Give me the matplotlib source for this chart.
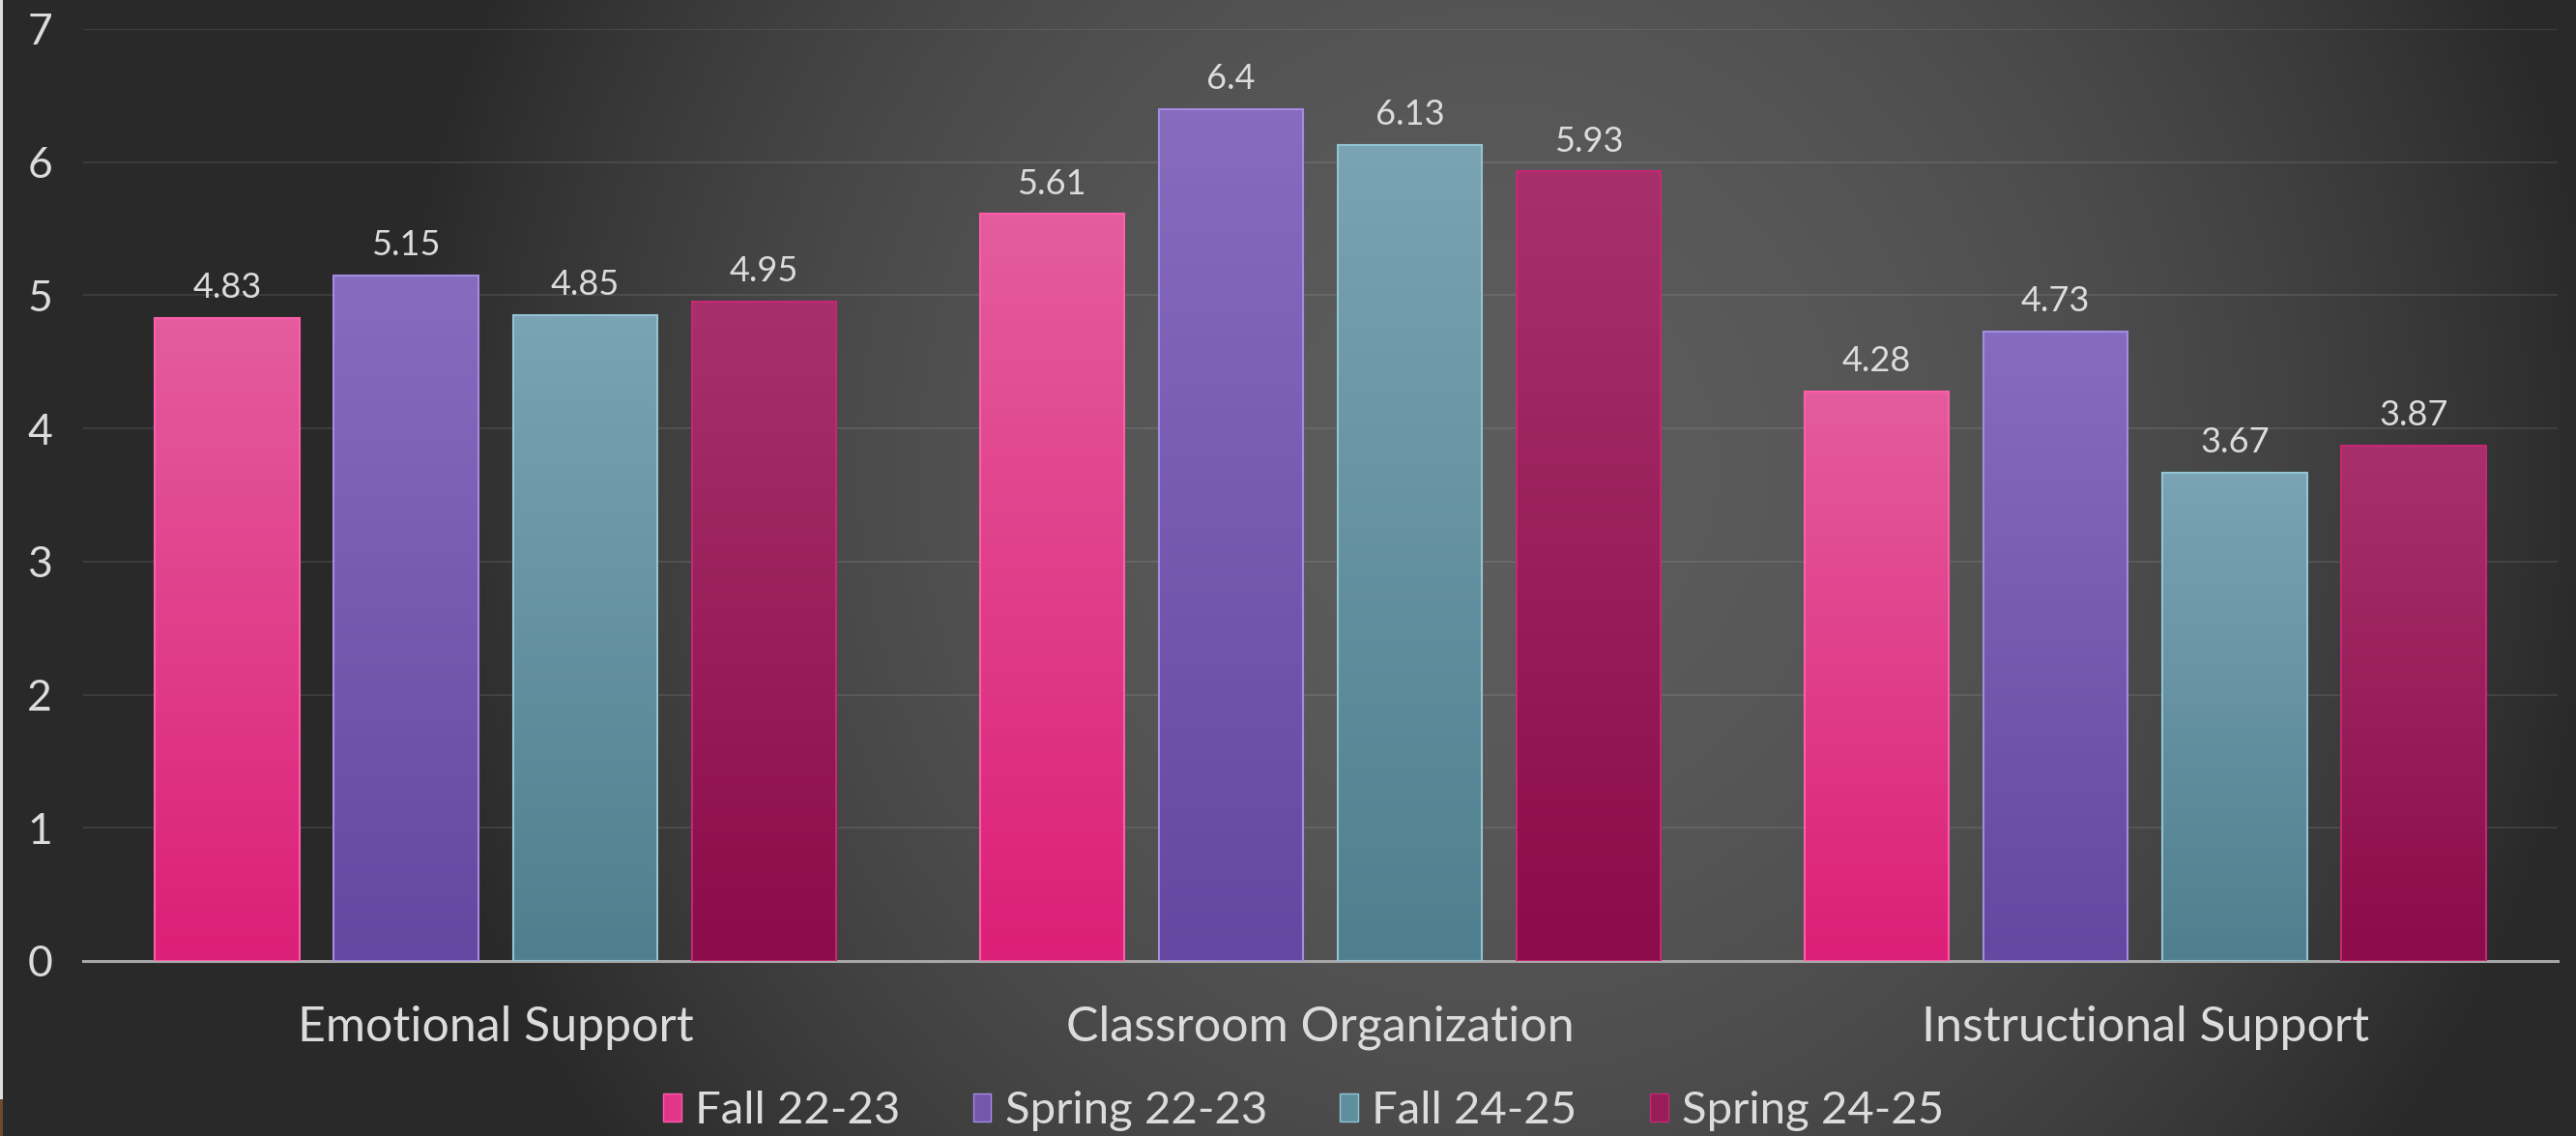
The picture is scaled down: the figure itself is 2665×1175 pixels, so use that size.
import numpy as np
import matplotlib
matplotlib.use('Agg')
import matplotlib.pyplot as plt
from matplotlib.colors import LinearSegmentedColormap
from matplotlib.patches import Rectangle

plt.rcParams['font.family'] = ['Lato', 'DejaVu Sans']

# data
categories = ['Emotional Support', 'Classroom Organization', 'Instructional Support']
series = ['Fall 22-23', 'Spring 22-23', 'Fall 24-25', 'Spring 24-25']
fall_22_23 = [4.83, 5.61, 4.28]
spring_22_23 = [5.15, 6.4, 4.73]
fall_24_25 = [4.85, 6.13, 3.67]
spring_24_25 = [4.95, 5.93, 3.87]
y_ticks = [0, 1, 2, 3, 4, 5, 6, 7]

values = [fall_22_23, spring_22_23, fall_24_25, spring_24_25]
# (top, bottom, edge highlight, legend colour)
colors = [
    ('#e45c9c', '#dc1f78', '#ff5cab', '#e2358a'),
    ('#866cbf', '#6447a0', '#a48ce2', '#7457ad'),
    ('#7aa3b3', '#4f7f8e', '#93c4d4', '#5f8e9e'),
    ('#a8306a', '#8a0c48', '#c52776', '#971c57'),
]
text_color = '#dcdcdc'

W, H = 2665, 1175
fig = plt.figure(figsize=(W / 100, H / 100), dpi=100)
fig.patch.set_facecolor('#2e2e2e')

# background: soft radial gradient, lighter towards the middle
bg = fig.add_axes([0, 0, 1, 1], zorder=-10)
yy, xx = np.mgrid[0:H:4, 0:W:4]
r2 = ((xx - 1550) / 1150.0) ** 2 + ((yy - 480) / 1200.0) ** 2
f = np.clip(1 - r2, 0, 1)
grey = (41 + 51 * f) / 255.0
bg.imshow(np.dstack([grey, grey, grey]), extent=[0, 1, 0, 1], aspect='auto', origin='upper')
bg.set_xlim(0, 1)
bg.set_ylim(0, 1)
bg.axis('off')
# thin light strip on the far left edge of the screenshot
bg.add_patch(Rectangle((0, 38 / H), 3 / W, 1, color='#dedede', lw=0))
bg.add_patch(Rectangle((0, 0), 3 / W, 38 / H, color='#6b4a2c', lw=0))

ax = fig.add_axes([86 / W, 1 - 994 / H, (2646 - 86) / W, (994 - 30) / H])
ax.set_facecolor('none')

x = np.arange(len(categories))
width = 0.175
step = 0.217

for i, (name, vals) in enumerate(zip(series, values)):
    top, bottom, edge, _ = colors[i]
    cmap = LinearSegmentedColormap.from_list(name, [bottom, top])
    bars = ax.bar(x + (i - 1.5) * step, vals, width, facecolor='none',
                  edgecolor=edge, linewidth=1.5, zorder=3)
    for rect, v in zip(bars, vals):
        grad = np.linspace(0, 1, 100).reshape(-1, 1)
        im = ax.imshow(grad, extent=[rect.get_x(), rect.get_x() + rect.get_width(), 0, rect.get_height()],
                       cmap=cmap, aspect='auto', origin='lower', zorder=2)
        im.set_clip_path(rect)
        ax.annotate(f'{v:g}', (rect.get_x() + rect.get_width() / 2, v), xytext=(0, 15),
                    textcoords='offset points', ha='center', va='baseline',
                    fontsize=26, color=text_color)

ax.set_xlim(-0.5, len(categories) - 0.5)
ax.set_ylim(0, 7)
ax.set_yticks(y_ticks)
ax.set_xticks(x)
ax.set_xticklabels(categories)
ax.tick_params(axis='y', length=0, pad=23, labelsize=32, labelcolor=text_color)
ax.tick_params(axis='x', length=0, pad=33, labelsize=36, labelcolor=text_color)

ax.yaxis.grid(True, color='white', alpha=0.09, linewidth=1.5)
ax.set_axisbelow(True)
for s in ['top', 'right', 'left']:
    ax.spines[s].set_visible(False)
ax.spines['bottom'].set_color('#a6a6a6')
ax.spines['bottom'].set_linewidth(2.2)

handles = [Rectangle((0, 0), 1, 1, facecolor=c[3], edgecolor=c[2], linewidth=1) for c in colors]
fig.legend(handles, series, loc='center', bbox_to_anchor=(0.506, 0.022), ncol=4,
           frameon=False, fontsize=34, labelcolor=text_color,
           handlelength=0.4, handleheight=0.6, handletextpad=0.3, columnspacing=1.6)

plt.savefig('out.png', dpi=100, facecolor=fig.get_facecolor())
